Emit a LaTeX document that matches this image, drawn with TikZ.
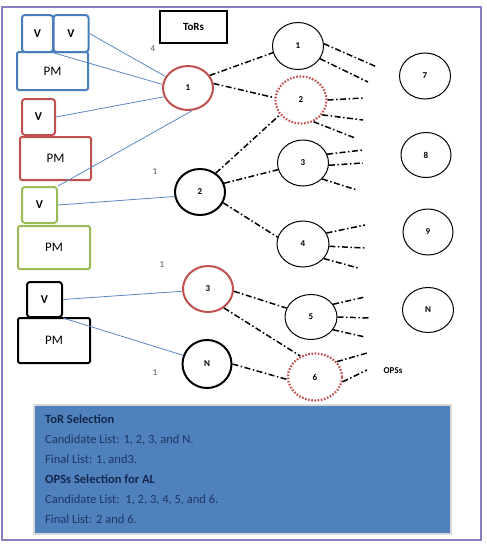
\documentclass[tikz,border=0pt]{standalone}
\usepackage{fontspec}
\setmainfont{Carlito}
\usetikzlibrary{shapes.geometric}
\definecolor{frameviolet}{HTML}{8E7CC3}
\definecolor{pmblue}{HTML}{4A7EBB}
\definecolor{pmred}{HTML}{C0504D}
\definecolor{pmgreen}{HTML}{9BBB59}
\definecolor{linkblue}{HTML}{5B86C0}
\definecolor{selfill}{HTML}{4F81BD}
\definecolor{selnavy}{HTML}{14284B}
\definecolor{seltext}{HTML}{1D3766}

\begin{document}
\begin{tikzpicture}[
      x=1pt,
      y=-1pt,
      vbox/.style={
        draw,
        line width=2pt,
        rounded corners=3pt,
        inner sep=0pt,
        font=\bfseries\fontsize{12}{12}\selectfont
      },
      pmbox/.style={
        draw,
        line width=2pt,
        rounded corners=2pt,
        inner sep=0pt,
        font=\fontsize{13}{13}\selectfont
      },
      tor/.style={
        ellipse,
        draw,
        line width=2pt,
        inner sep=0pt,
        font=\bfseries\fontsize{9}{9}\selectfont
      },
      ops/.style={
        ellipse,
        draw,
        line width=1pt,
        inner sep=0pt,
        minimum width=51,
        minimum height=46,
        font=\bfseries\fontsize{9}{9}\selectfont
      },
      opssel/.style={
        ops,
        draw=pmred,
        line width=2.2pt,
        dash pattern=on 1.6pt off 1.6pt
      },
      link/.style={
        draw=linkblue,
        line width=0.8pt
      },
      optic/.style={
        draw=black,
        line width=1.5pt,
        dash pattern=on 6pt off 2.5pt on 1.5pt off 2.5pt
      },
      weight/.style={
        font=\fontsize{9}{9}\selectfont,
        text=black!70
      }
  ]

    \useasboundingbox (0,0) rectangle (487,546);
    \draw[frameviolet, line width=2.5pt] (2,7) rectangle (481,540);

    % Servere (V + PM)
    \node[vbox, draw=pmblue, minimum width=31, minimum height=37] (vba) at (37.5,33.5) {V};
    \node[vbox, draw=pmblue, minimum width=35, minimum height=37] (vbb) at (71,33.5) {V};
    \node[pmbox, draw=pmblue, minimum width=71, minimum height=38] (pmb) at (52.5,71) {PM};

    \node[vbox, draw=pmred, minimum width=33, minimum height=36] (vr) at (38.5,117) {V};
    \node[pmbox, draw=pmred, minimum width=71, minimum height=43] (pmr) at (55.5,158.5) {PM};

    \node[vbox, draw=pmgreen, minimum width=35, minimum height=36] (vg) at (39.5,205) {V};
    \node[pmbox, draw=pmgreen, minimum width=72, minimum height=43] (pmg) at (54,247.5) {PM};

    \node[vbox, minimum width=35, minimum height=35] (vk) at (44.5,299.5) {V};
    \node[pmbox, minimum width=72, minimum height=45] (pmk) at (54,340.5) {PM};

    \node[draw, line width=1.2pt, minimum width=67, minimum height=32,
      font=\bfseries\fontsize{11}{11}\selectfont] (tors) at (193.5,27) {ToRs};

    % ToRs
    \node[tor, draw=pmred, minimum width=50, minimum height=44] (t1) at (188,88) {1};
    \node[tor, minimum width=50, minimum height=46] (t2) at (200,192) {2};
    \node[tor, draw=pmred, minimum width=50, minimum height=46] (t3) at (208,289) {3};
    \node[tor, minimum width=49, minimum height=48] (tN) at (207,364) {N};

    % OPSs
    \node[ops, minimum height=47] (o1) at (298,46) {1};
    \node[opssel, minimum height=47] (o2) at (301,100) {2};
    \node[ops] (o3) at (303,163) {3};
    \node[ops, minimum width=52] (o4) at (303,244) {4};
    \node[ops, minimum width=52, minimum height=45] (o5) at (311,317) {5};
    \node[opssel, minimum width=54, minimum height=47] (o6) at (315,377) {6};
    \node[ops] (o7) at (425,76) {7};
    \node[ops, minimum width=50, minimum height=45] (o8) at (426,155) {8};
    \node[ops, minimum width=50] (o9) at (428,232) {9};
    \node[ops, minimum height=45] (oN) at (428,310) {N};
    \node[font=\bfseries\fontsize{9}{9}\selectfont] (opss) at (393,371) {OPSs};

    % V -> ToR
    \draw[link] (vbb.east) -- (t1.153);
    \draw[link] (vba.south east) -- (t1.172);
    \draw[link] (vr.east) -- (t1.200);
    \draw[link] (vg.north east) -- (t1.280);
    \draw[link] (vg.east) -- (t2.190);
    \draw[link] (vk.east) -- (t3.185);
    \draw[link] (vk.south east) -- (tN.160);

    \node[weight] (w4) at (153,49) {4};
    \node[weight] (w2) at (155,172) {1};
    \node[weight] (w3) at (162,265) {1};
    \node[weight] (wN) at (155,373) {1};

    % ToR -> OPS
    \draw[optic] (t1.30) -- (o1.195);
    \draw[optic] (t1.10) -- (o2.175);
    \draw[optic] (t2.50) -- (o2.215);
    \draw[optic] (t2.20) -- (o3.195);
    \draw[optic] (t2.-25) -- (o4.165);
    \draw[optic] (t3.-5) -- (o5.160);
    \draw[optic] (t3.-50) -- (o6.125);
    \draw[optic] (tN.0) -- (o6.185);

    % OPS-udgange
    \foreach \o/\a/\ex/\ey in {
        o1/5/377/67, o1/-30/368/82,
        o2/0/363/98, o2/-35/363/120, o2/-60/355/138,
        o3/20/363/150, o3/-5/363/163, o3/-40/357/190,
        o4/25/365/225, o4/-5/365/248, o4/-35/358/268,
        o5/30/365/297, o5/0/370/318, o5/-30/365/337,
        o6/35/367/353, o6/-10/367/370} {
      \coordinate (\o-\a) at (\ex,\ey);
      \draw[optic] (\o.\a) -- (\o-\a);
    }

    % Udvalg
    \node[
      fill=selfill,
      draw=black!15,
      line width=1.5pt,
      anchor=north west,
      minimum width=417,
      minimum height=129
    ] (sel) at (33,404) {};

    \node[
      anchor=north west,
      inner sep=0pt,
      align=left,
      text=seltext,
      font=\fontsize{12.5}{20}\selectfont
    ] (seltxt) at (45,415) {
      \textbf{\color{selnavy}ToR Selection}\\
      Candidate List: 1, 2, 3, and N.\\
      Final List: 1, and3.\\
      \textbf{\color{selnavy}OPSs Selection for AL}\\
      Candidate List:\ \ 1, 2, 3, 4, 5, and 6.\\
      Final List: 2 and 6.
    };

  \end{tikzpicture}
\end{document}
